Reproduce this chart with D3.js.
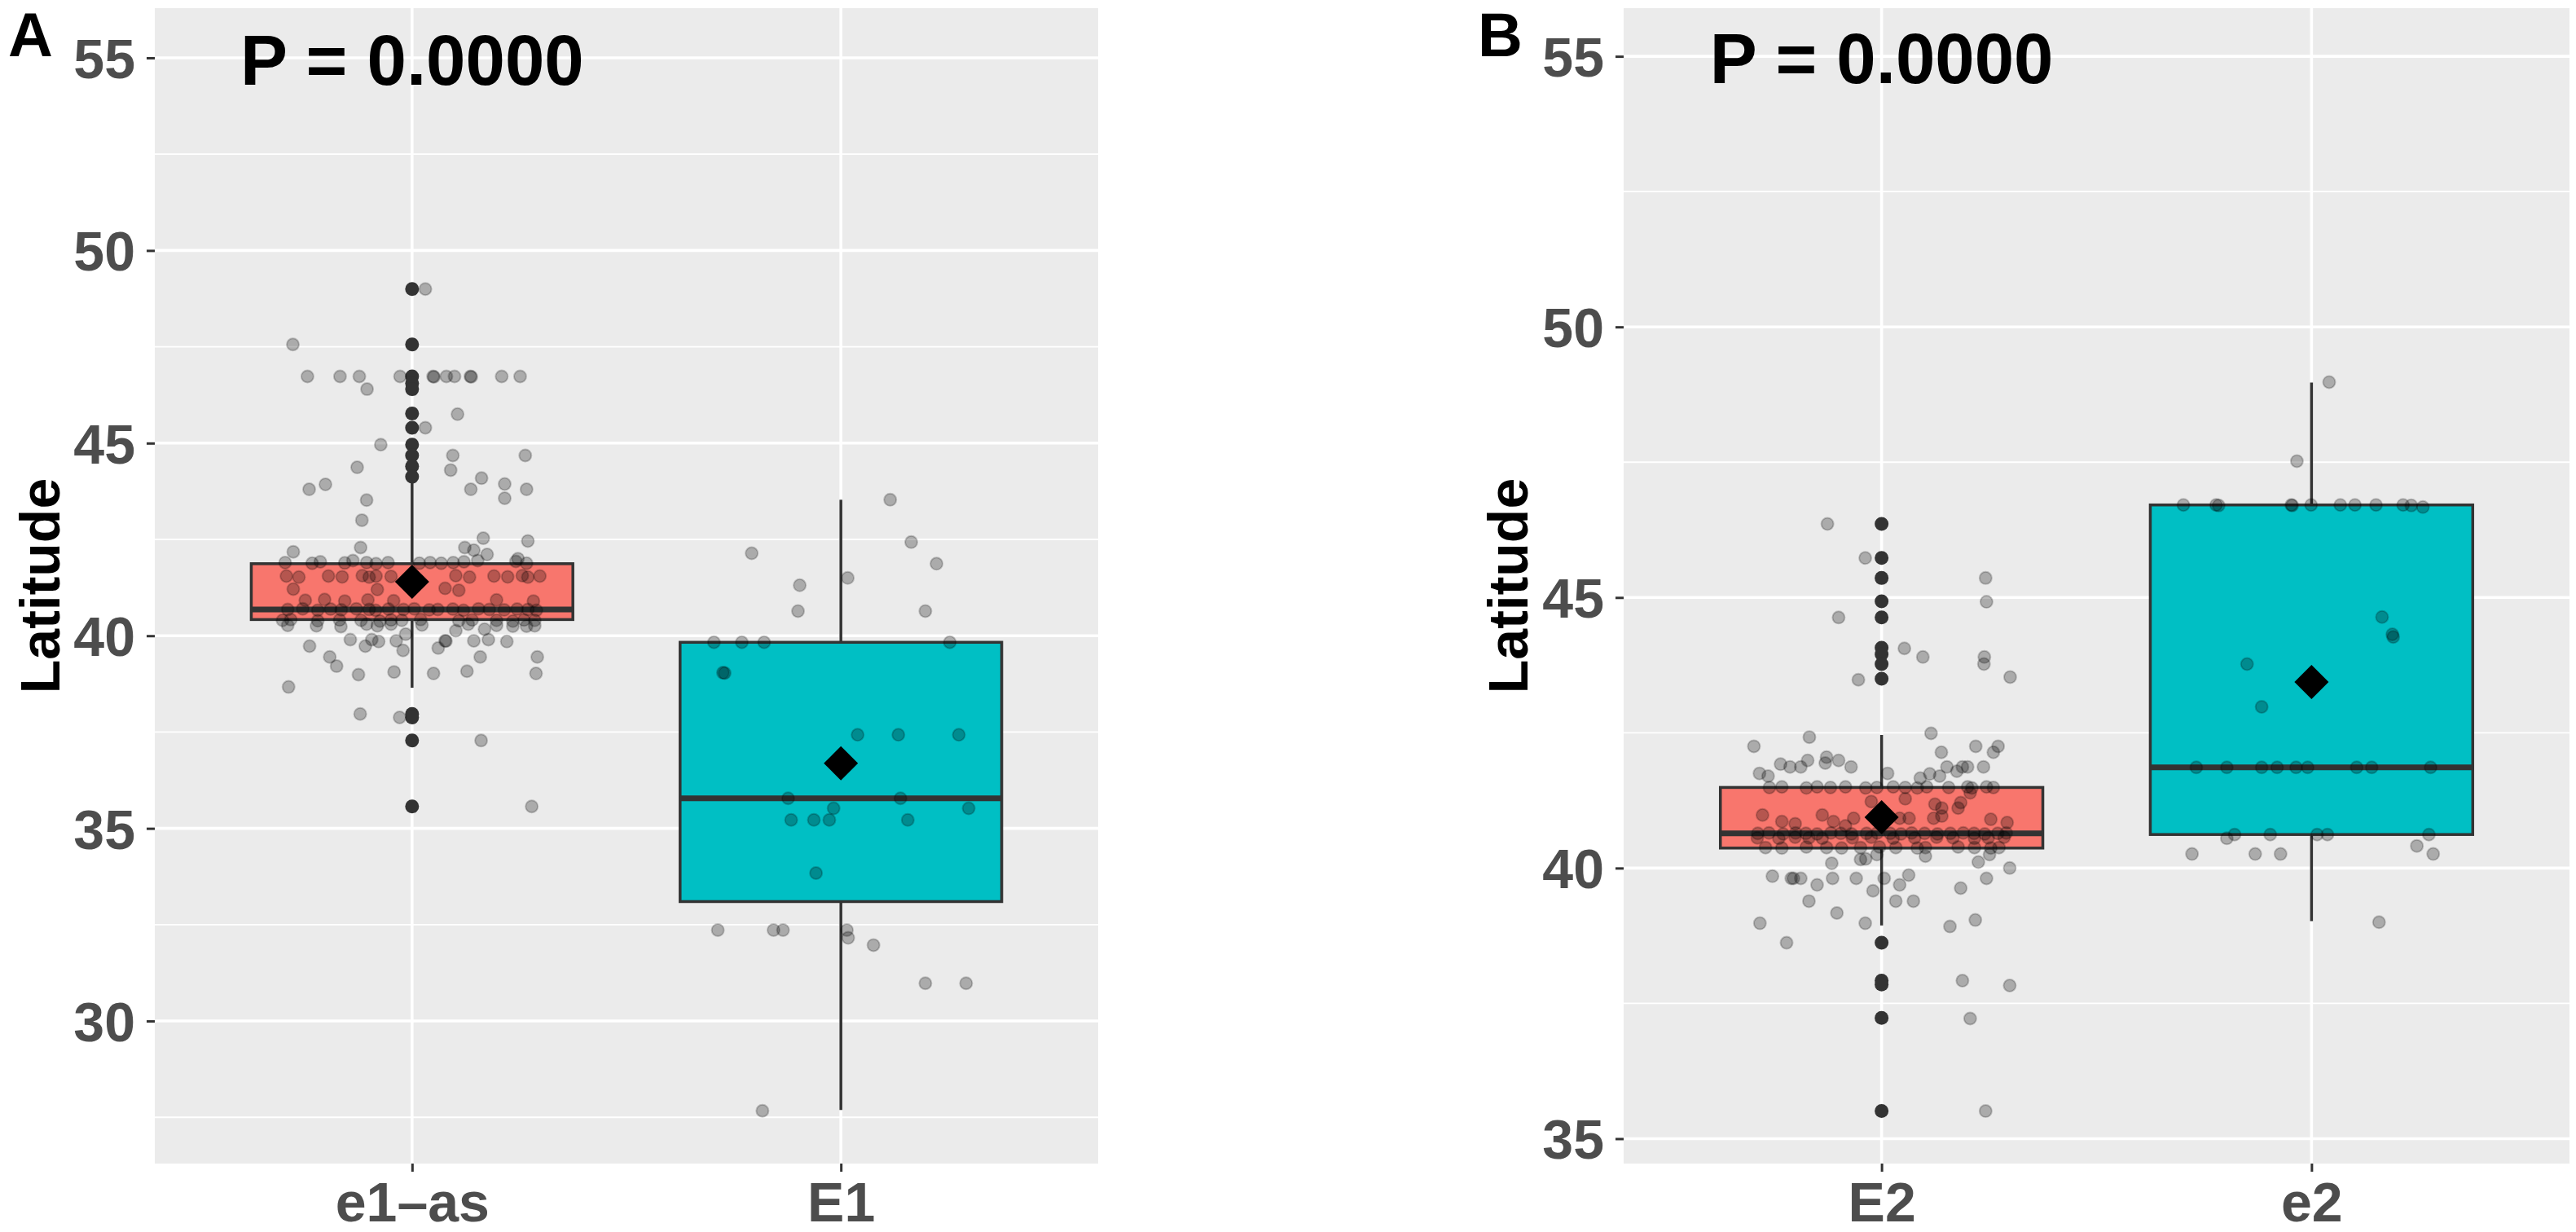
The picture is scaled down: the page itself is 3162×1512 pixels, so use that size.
<!DOCTYPE html>
<html>
<head>
<meta charset="utf-8">
<script src="https://cdn.jsdelivr.net/npm/d3@7"></script>
<style>
  html, body { margin: 0; padding: 0; background: #ffffff; }
  svg { display: block; }
  text { font-family: "Liberation Sans", Arial, Helvetica, sans-serif; font-weight: bold; }
</style>
</head>
<body>
<svg id="chart" width="3162" height="1512"></svg>
<script>
// ---------------- DATA ----------------
const categoriesA = ["e1–as", "E1"];
const categoriesB = ["E2", "e2"];

const yTicksA = [30, 35, 40, 45, 50, 55];
const yMinorA = [27.5, 32.5, 37.5, 42.5, 47.5, 52.5];
const yTicksB = [35, 40, 45, 50, 55];
const yMinorB = [37.5, 42.5, 47.5, 52.5];

const pValueLabel = "P = 0.0000";
const pValueY = 55;

// box statistics [first category, second category]
const lowerWhiskerA = [38.65, 27.69];
const q1A = [40.42, 33.10];
const medianA = [40.68, 35.78];
const q3A = [41.87, 39.83];
const upperWhiskerA = [44.03, 43.53];
const meanA = [41.40, 36.69];
const outliersA = [
  [49.0, 47.56, 46.73, 46.55, 46.4, 45.77, 45.4, 44.96, 44.68, 44.4, 44.13, 37.97, 37.88, 37.28, 35.57],
  []
];

const lowerWhiskerB = [38.94, 39.02];
const q1B = [40.37, 40.62];
const medianB = [40.64, 41.86];
const q3B = [41.49, 46.71];
const upperWhiskerB = [42.46, 48.97];
const meanB = [40.94, 43.44];
const outliersB = [
  [46.36, 45.73, 45.36, 44.93, 44.63, 44.07, 43.95, 43.77, 43.5, 38.62, 37.92, 37.85, 37.23, 35.51],
  []
];

// jittered observations: [latitude, horizontal jitter in category-step units]
const pointsE1as = [
  [49.0,0.031],[47.56,-0.278],
  [46.73,-0.244],[46.73,-0.168],[46.73,-0.123],[46.4,-0.105],[46.73,-0.028],[46.73,0.049],[46.72,0.051],[46.73,0.080],[46.73,0.099],[46.73,0.136],[46.72,0.138],[46.73,0.209],[46.73,0.252],
  [45.75,0.106],[45.4,0.031],[44.96,-0.073],[44.68,0.095],[44.68,0.264],[44.37,-0.128],[44.3,0.090],[44.09,0.162],[43.8,-0.240],[43.93,-0.202],[43.8,0.137],[43.94,0.216],[43.8,0.267],[43.57,0.216],[43.52,-0.106],[43.0,-0.117],
  [42.18,-0.277],[42.29,-0.120],[42.53,0.166],[42.46,0.270],[42.29,0.123],[42.22,0.144],[42.11,0.175],[42.0,0.247],
  [41.9,-0.296],[41.88,-0.233],[41.92,-0.214],[41.89,-0.157],[41.95,-0.138],[41.9,-0.106],[41.87,-0.084],[41.9,-0.056],[41.88,0.017],[41.9,0.042],[41.88,0.068],[41.9,0.096],[41.92,0.121],[41.95,0.153],[41.93,0.242],[41.88,0.267],
  [41.55,-0.293],[41.52,-0.264],[41.55,-0.195],[41.53,-0.163],[41.56,-0.116],[41.52,-0.1],[41.55,-0.084],[41.54,-0.049],[41.56,0.102],[41.52,0.134],[41.55,0.191],[41.53,0.223],[41.56,0.257],[41.52,0.270],[41.55,0.298],
  [41.21,-0.277],[41.2,-0.081],[41.23,0.077],[41.18,0.109],
  [40.92,-0.249],[40.94,-0.204],[40.9,-0.157],[40.93,-0.103],[40.91,-0.043],[40.93,0.197],[40.9,0.283],
  [40.68,-0.29],[40.7,-0.255],[40.66,-0.22],[40.69,-0.19],[40.67,-0.165],[40.7,-0.13],[40.68,-0.1],[40.66,-0.085],[40.69,-0.055],[40.68,-0.02],[40.7,0.005],[40.67,0.04],[40.68,0.06],[40.69,0.095],[40.66,0.12],[40.7,0.155],[40.68,0.18],[40.67,0.215],[40.69,0.245],[40.68,0.27],[40.66,0.29],
  [40.4,-0.302],[40.42,-0.283],[40.39,-0.220],[40.41,-0.169],[40.4,-0.119],[40.38,-0.075],[40.41,-0.049],[40.4,-0.024],[40.42,0.020],[40.39,0.109],[40.41,0.140],[40.4,0.197],[40.38,0.235],[40.41,0.261],[40.4,0.286],
  [40.27,-0.290],[40.26,-0.223],[40.24,-0.166],[40.3,-0.106],[40.26,-0.081],[40.3,-0.049],[40.28,0.023],[40.3,0.131],[40.27,0.197],[40.25,0.235],[40.25,0.267],[40.26,0.286],
  [40.13,0.102],[40.17,0.169],[40.04,-0.015],[39.9,-0.144],[39.9,-0.094],[39.85,-0.078],[39.87,-0.037],[39.73,-0.239],[39.73,-0.109],[39.62,-0.021],[39.68,0.061],[39.87,0.077],[39.86,0.079],[39.87,0.144],[39.9,0.178],[39.85,0.221],
  [39.45,-0.192],[39.21,-0.176],[39.45,0.159],[39.45,0.292],[38.99,-0.125],[39.06,-0.042],[39.02,0.050],[39.08,0.128],[39.02,0.289],[38.67,-0.288],
  [37.97,-0.121],[37.88,-0.029],[37.28,0.161],[35.57,0.279]
];

const pointsE1 = [
  [43.53,0.115],[42.43,0.164],[42.14,-0.208],[41.87,0.223],[41.5,0.016],[41.31,-0.096],[40.64,-0.100],[40.64,0.197],
  [39.83,-0.296],[39.83,-0.231],[39.83,-0.179],[39.83,0.254],[39.04,-0.275],[39.03,-0.271],
  [37.43,0.039],[37.43,0.134],[37.43,0.275],[35.78,-0.123],[35.78,0.139],[35.52,-0.017],[35.52,0.298],
  [35.22,-0.116],[35.22,-0.063],[35.22,-0.027],[35.22,0.156],[33.84,-0.058],
  [32.36,-0.287],[32.36,-0.157],[32.36,-0.135],[32.36,0.014],[32.16,0.017],[31.97,0.076],[30.98,0.197],[30.98,0.292],[27.67,-0.183]
];

const pointsE2 = [
  [46.36,-0.126],[45.73,-0.038],[45.36,0.242],[44.92,0.244],[44.63,-0.100],[44.06,0.053],[43.9,0.096],[43.9,0.239],[43.77,0.238],[43.48,-0.054],[43.53,0.299],
  [42.42,-0.168],[42.49,0.115],[42.25,-0.297],[42.14,0.139],[42.25,0.219],[42.25,0.271],[42.14,0.260],
  [41.92,-0.235],[41.87,-0.213],[41.87,-0.188],[41.99,-0.172],[42.05,-0.128],[41.94,-0.131],[41.99,-0.100],[41.87,-0.071],[41.87,0.152],[41.87,0.188],[41.87,0.200],[41.87,0.237],
  [41.75,-0.284],[41.7,-0.264],[41.75,0.014],[41.66,0.090],[41.74,0.112],[41.7,0.135],[41.79,0.175],
  [41.49,-0.261],[41.5,-0.232],[41.48,-0.175],[41.5,-0.150],[41.49,-0.119],[41.5,-0.084],[41.48,-0.037],[41.49,-0.011],[41.5,0.027],[41.49,0.055],[41.48,0.083],[41.5,0.105],[41.49,0.156],[41.5,0.200],[41.48,0.210],[41.5,0.244],[41.49,0.260],
  [41.23,-0.024],[41.28,0.055],[41.18,0.124],[41.11,0.140],[41.11,0.178],[41.21,0.184],[41.39,0.206],
  [40.98,-0.277],[40.86,-0.232],[40.82,-0.201],[40.98,-0.138],[40.86,-0.112],[40.78,-0.084],[40.92,-0.065],[40.92,0.042],[40.92,0.064],[40.92,0.121],[40.96,0.140],[40.9,0.254],[40.84,0.292],
  [40.64,-0.288],[40.65,-0.262],[40.63,-0.229],[40.65,-0.2],[40.64,-0.176],[40.63,-0.15],[40.65,-0.118],[40.64,-0.095],[40.63,-0.07],[40.64,-0.035],[40.65,-0.01],[40.64,0.02],[40.63,0.045],[40.65,0.07],[40.64,0.1],[40.63,0.13],[40.64,0.16],[40.65,0.19],[40.64,0.215],[40.63,0.24],[40.64,0.27],[40.65,0.29],
  [40.56,-0.289],[40.55,-0.239],[40.57,-0.201],[40.56,-0.169],[40.55,-0.138],[40.56,-0.068],[40.57,-0.024],[40.55,0.027],[40.56,0.077],[40.57,0.128],[40.56,0.166],[40.55,0.216],[40.56,0.248],[40.57,0.285],
  [40.38,-0.270],[40.37,-0.232],[40.39,-0.175],[40.38,-0.128],[40.37,-0.093],[40.38,-0.049],[40.39,-0.005],[40.38,0.033],[40.37,0.083],[40.38,0.102],[40.39,0.178],[40.38,0.216],[40.37,0.254],[40.38,0.273],
  [40.22,0.102],[40.09,-0.116],[40.16,-0.049],[40.17,-0.037],[40.25,-0.011],[40.11,0.225],[40.25,0.251],[40.0,0.298],
  [39.85,-0.254],[39.81,-0.210],[39.81,-0.205],[39.81,-0.188],[39.81,-0.114],[39.81,-0.059],[39.81,0.006],[39.87,0.063],[39.69,0.042],[39.69,-0.150],[39.81,0.244],[39.63,0.184],[39.58,-0.020],
  [39.39,-0.169],[39.39,0.033],[39.39,0.074],[39.17,-0.104],[38.98,-0.283],[38.98,-0.038],[38.92,0.159],[39.04,0.218],
  [38.62,-0.221],[37.92,0.188],[37.83,0.298],[37.22,0.206],[35.51,0.242]
];

const pointsE2lower = [
  [48.98,0.041],[47.52,-0.034],
  [46.71,-0.298],[46.71,-0.222],[46.7,-0.216],[46.71,-0.047],[46.7,-0.045],[46.71,-0.001],[46.71,0.067],[46.71,0.101],[46.71,0.150],[46.71,0.213],[46.7,0.232],[46.67,0.259],
  [44.64,0.164],[44.32,0.188],[44.27,0.190],[43.77,-0.150],[42.98,-0.116],
  [41.86,-0.268],[41.86,-0.197],[41.86,-0.116],[41.86,-0.080],[41.86,-0.036],[41.86,-0.009],[41.86,0.105],[41.86,0.140],[41.86,0.277],
  [40.55,-0.197],[40.62,-0.179],[40.62,-0.096],[40.62,0.013],[40.62,0.037],[40.62,0.273],
  [40.41,0.245],[40.26,-0.278],[40.26,-0.131],[40.26,-0.072],[40.26,0.283],[39.0,0.157]
];

const fillColors = ["#F8766D", "#00BFC4"];

// ---------------- DRAWING ----------------
const svg = d3.select("#chart");
const panelTop = 10, panelBottom = 1428;

function drawPanel(cfg) {
  const g = svg.append("g");
  const x = d3.scalePoint().domain(cfg.cats).range([cfg.left, cfg.right]).padding(0.6);
  const y = d3.scaleLinear().domain(cfg.domain).range([panelBottom, panelTop]);
  const step = x.step();
  const boxHalf = step * 0.75 / 2;

  // panel background
  g.append("rect").attr("x", cfg.left).attr("y", panelTop)
    .attr("width", cfg.right - cfg.left).attr("height", panelBottom - panelTop)
    .attr("fill", "#EBEBEB");

  // minor grid
  g.selectAll(".minor").data(cfg.minor).enter().append("line")
    .attr("x1", cfg.left).attr("x2", cfg.right)
    .attr("y1", d => y(d)).attr("y2", d => y(d))
    .attr("stroke", "#ffffff").attr("stroke-width", 1.8);
  // major grid
  g.selectAll(".majorY").data(cfg.ticks).enter().append("line")
    .attr("x1", cfg.left).attr("x2", cfg.right)
    .attr("y1", d => y(d)).attr("y2", d => y(d))
    .attr("stroke", "#ffffff").attr("stroke-width", 3.6);
  g.selectAll(".majorX").data(cfg.cats).enter().append("line")
    .attr("x1", d => x(d)).attr("x2", d => x(d))
    .attr("y1", panelTop).attr("y2", panelBottom)
    .attr("stroke", "#ffffff").attr("stroke-width", 3.6);

  // boxplots
  cfg.cats.forEach((c, i) => {
    const cx = x(c);
    const bg = g.append("g");
    // outliers
    bg.selectAll("circle").data(cfg.outliers[i]).enter().append("circle")
      .attr("cx", cx).attr("cy", d => y(d)).attr("r", 8.5).attr("fill", "#333333");
    // whiskers
    bg.append("line").attr("x1", cx).attr("x2", cx)
      .attr("y1", y(cfg.q3[i])).attr("y2", y(cfg.uw[i]))
      .attr("stroke", "#333333").attr("stroke-width", 3.5);
    bg.append("line").attr("x1", cx).attr("x2", cx)
      .attr("y1", y(cfg.q1[i])).attr("y2", y(cfg.lw[i]))
      .attr("stroke", "#333333").attr("stroke-width", 3.5);
    // box
    bg.append("rect").attr("x", cx - boxHalf).attr("y", y(cfg.q3[i]))
      .attr("width", boxHalf * 2).attr("height", y(cfg.q1[i]) - y(cfg.q3[i]))
      .attr("fill", fillColors[i]).attr("stroke", "#333333").attr("stroke-width", 3.5);
    // median
    bg.append("line").attr("x1", cx - boxHalf).attr("x2", cx + boxHalf)
      .attr("y1", y(cfg.med[i])).attr("y2", y(cfg.med[i]))
      .attr("stroke", "#333333").attr("stroke-width", 7);
  });

  // jittered points
  cfg.cats.forEach((c, i) => {
    g.append("g").selectAll("circle").data(cfg.points[i]).enter().append("circle")
      .attr("cx", d => x(c) + d[1] * step)
      .attr("cy", d => y(d[0]))
      .attr("r", 7.5)
      .attr("fill", "rgba(0,0,0,0.27)")
      .attr("stroke", "rgba(0,0,0,0.2)")
      .attr("stroke-width", 2);
  });

  // mean diamonds
  cfg.cats.forEach((c, i) => {
    const cx = x(c), cy = y(cfg.mean[i]), h = 21;
    g.append("path")
      .attr("d", `M${cx},${cy - h}L${cx + h},${cy}L${cx},${cy + h}L${cx - h},${cy}Z`)
      .attr("fill", "#000000");
  });

  // p-value annotation
  g.append("text").attr("x", x(cfg.cats[0])).attr("y", y(pValueY) + 33)
    .attr("text-anchor", "middle").attr("font-size", 87).attr("fill", "#000000")
    .text(pValueLabel);

  // y axis
  const yAxis = g.append("g").attr("transform", `translate(${cfg.left},0)`)
    .call(d3.axisLeft(y).tickValues(cfg.ticks).tickSize(10).tickPadding(14).tickFormat(d3.format("d")));
  yAxis.select(".domain").remove();
  yAxis.selectAll(".tick line").attr("stroke", "#333333").attr("stroke-width", 3);
  yAxis.selectAll(".tick text").attr("font-size", 68).attr("fill", "#4D4D4D")
    .attr("font-family", "'Liberation Sans', Arial, sans-serif").attr("font-weight", "bold")
    .attr("dy", "0.36em");

  // x axis
  const xAxis = g.append("g").attr("transform", `translate(0,${panelBottom})`)
    .call(d3.axisBottom(x).tickSize(10).tickPadding(13));
  xAxis.select(".domain").remove();
  xAxis.selectAll(".tick line").attr("stroke", "#333333").attr("stroke-width", 3);
  xAxis.selectAll(".tick text").attr("font-size", 68).attr("fill", "#4D4D4D")
    .attr("font-family", "'Liberation Sans', Arial, sans-serif").attr("font-weight", "bold");

  // y axis title
  g.append("text")
    .attr("transform", `translate(${cfg.titleX},${(panelTop + panelBottom) / 2}) rotate(-90)`)
    .attr("text-anchor", "middle").attr("font-size", 68).attr("fill", "#000000")
    .text("Latitude");

  // panel letter
  g.append("text").attr("x", cfg.letterX).attr("y", 69)
    .attr("font-size", 76).attr("fill", "#000000").text(cfg.letter);
}

drawPanel({
  left: 190, right: 1348, cats: categoriesA, domain: [26.30, 56.29],
  ticks: yTicksA, minor: yMinorA,
  lw: lowerWhiskerA, q1: q1A, med: medianA, q3: q3A, uw: upperWhiskerA, mean: meanA,
  outliers: outliersA, points: [pointsE1as, pointsE1],
  titleX: 73, letter: "A", letterX: 10
});

drawPanel({
  left: 1993, right: 3154, cats: categoriesB, domain: [34.54, 55.89],
  ticks: yTicksB, minor: yMinorB,
  lw: lowerWhiskerB, q1: q1B, med: medianB, q3: q3B, uw: upperWhiskerB, mean: meanB,
  outliers: outliersB, points: [pointsE2, pointsE2lower],
  titleX: 1875, letter: "B", letterX: 1814
});
</script>
</body>
</html>
